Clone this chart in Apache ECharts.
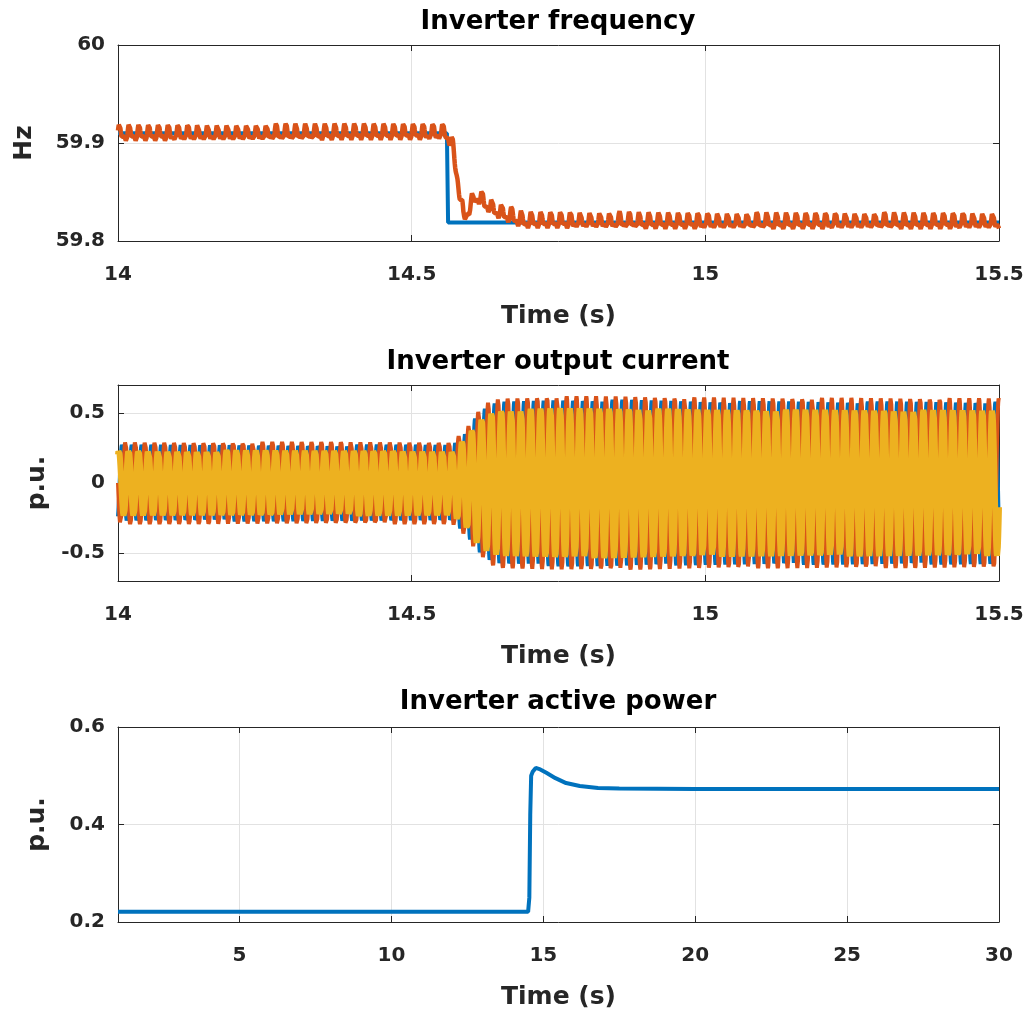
<!DOCTYPE html>
<html>
<head>
<meta charset="utf-8">
<script src="https://cdn.jsdelivr.net/npm/echarts@6/dist/echarts.min.js"></script>
<style>
html, body { margin: 0; background: #fff; }
#chart { width: 1029px; height: 1013px; }
</style>
</head>
<body>
<div id="chart"></div>
<script>
// ---- Inverter frequency (Hz), key points ----
var freqRefT = [14, 14.56, 14.562, 15.5];
var freqRefV = [59.91, 59.91, 59.819, 59.819];
var freqMeasT = [14, 14.2, 14.4, 14.56, 14.568, 14.578, 14.588, 14.6, 14.612, 14.625, 14.64, 14.66, 14.69, 15.0, 15.5];
var freqMeasV = [59.909, 59.909, 59.91, 59.91, 59.9, 59.865, 59.823, 59.836, 59.846, 59.838, 59.832, 59.827, 59.82, 59.819, 59.819];
var freqRipple = [0.0065, 0.0045];

// ---- Inverter output current envelopes (p.u.) ----
var curT = [14, 14.57, 14.594, 14.611, 14.63, 14.65, 14.75, 14.85, 15.0, 15.5];
var curAmpA = [0.275, 0.275, 0.37, 0.48, 0.55, 0.58, 0.595, 0.595, 0.585, 0.58];
var curAmpB = [0.295, 0.295, 0.39, 0.5, 0.575, 0.605, 0.62, 0.62, 0.61, 0.605];
var curAmpC = [0.235, 0.235, 0.33, 0.43, 0.495, 0.52, 0.535, 0.535, 0.525, 0.52];

// ---- Inverter active power (p.u.) ----
var powT = [1, 5, 10, 14.5, 14.54, 14.57, 14.6, 14.65, 14.75, 14.9, 15.1, 15.4, 15.75, 16.2, 16.8, 17.5, 20, 25, 30];
var powV = [0.221, 0.221, 0.221, 0.221, 0.25, 0.42, 0.5, 0.508, 0.516, 0.513, 0.506, 0.495, 0.485, 0.479, 0.475, 0.474, 0.473, 0.473, 0.473];

// ---- tick labels ----
var freqXTicks = [14, 14.5, 15, 15.5];
var curYTicks = [-0.5, 0, 0.5];
var powXTicks = [5, 10, 15, 20, 25, 30];

function lerp(ts, vs, t) {
    for (var i = 1; i < ts.length; i++) {
        if (t <= ts[i]) {
            var k = (t - ts[i - 1]) / (ts[i] - ts[i - 1]);
            return vs[i - 1] + k * (vs[i] - vs[i - 1]);
        }
    }
    return vs[vs.length - 1];
}

// build waveforms: phase follows the inverter frequency
var dt = 1 / 1500;
var freqMeas = [], ia = [], ib = [], ic = [];
var freqRef = freqRefT.map(function (t, i) { return [t, freqRefV[i]]; });
var ph = 0;
for (var t = 14; t <= 15.5 + 1e-9; t += dt) {
    var f = lerp(freqRefT, freqRefV, t);
    var th = 2 * Math.PI * ph;
    freqMeas.push([t, lerp(freqMeasT, freqMeasV, t) + freqRipple[0] * Math.sin(th + 0.6) + freqRipple[1] * Math.sin(2 * th)]);
    ia.push([t, lerp(curT, curAmpA, t) * Math.sin(th + 5 * Math.PI / 3)]);
    ib.push([t, lerp(curT, curAmpB, t) * Math.sin(th + Math.PI)]);
    ic.push([t, lerp(curT, curAmpC, t) * Math.sin(th + Math.PI / 3)]);
    ph += f * dt;
}
var power = powT.map(function (t, i) { return [t, powV[i]]; });

var FONT = 'DejaVu Sans';
var INK = '#262626';
var BLUE = '#0072BD', ORANGE = '#D95319', YELLOW = '#EDB120';

var grids = [
    { left: 118, top: 45, width: 881, height: 196 },
    { left: 118, top: 385, width: 881, height: 196 },
    { left: 118, top: 727, width: 881, height: 195 }
];

function mainX(g, min, max, ticks) {
    return {
        type: 'value', gridIndex: g, min: min, max: max, position: 'bottom',
        name: 'Time (s)', nameLocation: 'middle', nameGap: 63,
        nameTextStyle: { fontFamily: FONT, fontWeight: 'bold', fontSize: 25, color: INK },
        axisLine: { show: true, onZero: false, lineStyle: { color: INK, width: 1 } },
        axisTick: { show: true, inside: true, length: 6, customValues: ticks, lineStyle: { color: INK } },
        axisLabel: { show: true, customValues: ticks, margin: 24, showMinLabel: true, showMaxLabel: true,
            fontFamily: FONT, fontWeight: 'bold', fontSize: 20, color: INK },
        splitLine: { show: true, customValues: ticks, lineStyle: { color: '#e2e2e2', width: 1 } }
    };
}
function topX(g, min, max, ticks) {
    return {
        type: 'value', gridIndex: g, min: min, max: max, position: 'top',
        axisLine: { show: true, onZero: false, lineStyle: { color: INK, width: 1 } },
        axisTick: { show: true, inside: true, length: 6, customValues: ticks, lineStyle: { color: INK } },
        axisLabel: { show: false }, splitLine: { show: false }
    };
}
function mainY(g, min, max, opts) {
    var ax = {
        type: 'value', gridIndex: g, min: min, max: max, position: 'left',
        name: opts.name, nameLocation: 'middle', nameGap: opts.gap,
        nameTextStyle: { fontFamily: FONT, fontWeight: 'bold', fontSize: 25, color: INK },
        axisLine: { show: true, onZero: false, lineStyle: { color: INK, width: 1 } },
        axisTick: { show: true, inside: true, length: 6, lineStyle: { color: INK } },
        axisLabel: { show: true, margin: 13, showMinLabel: true, showMaxLabel: true,
            fontFamily: FONT, fontWeight: 'bold', fontSize: 20, color: INK },
        splitLine: { show: true, lineStyle: { color: '#e2e2e2', width: 1 } }
    };
    if (opts.interval) ax.interval = opts.interval;
    if (opts.ticks) {
        ax.axisTick.customValues = opts.ticks;
        ax.axisLabel.customValues = opts.ticks;
        ax.splitLine.customValues = opts.ticks;
    }
    return ax;
}
function rightY(g, min, max, opts) {
    var ax = {
        type: 'value', gridIndex: g, min: min, max: max, position: 'right',
        axisLine: { show: true, onZero: false, lineStyle: { color: INK, width: 1 } },
        axisTick: { show: true, inside: true, length: 6, lineStyle: { color: INK } },
        axisLabel: { show: false }, splitLine: { show: false }
    };
    if (opts.interval) ax.interval = opts.interval;
    if (opts.ticks) ax.axisTick.customValues = opts.ticks;
    return ax;
}

function titleAt(text, y) {
    return {
        text: text, left: 558, top: y, textAlign: 'center', padding: 0,
        textStyle: { fontFamily: FONT, fontWeight: 'bold', fontSize: 26, color: '#000' }
    };
}

function line(name, data, xi, color, width) {
    return {
        name: name, type: 'line', xAxisIndex: xi, yAxisIndex: xi, data: data,
        showSymbol: false, symbol: 'none', silent: true,
        lineStyle: { color: color, width: width }, z: 2
    };
}

var yOpt0 = { name: 'Hz', gap: 81, interval: 0.1 };
var yOpt1 = { name: 'p.u.', gap: 68, ticks: curYTicks };
var yOpt2 = { name: 'p.u.', gap: 68, interval: 0.2 };

var chart = echarts.init(document.getElementById('chart'), null, { renderer: 'canvas' });
chart.setOption({
    animation: false,
    backgroundColor: '#fff',
    title: [
        titleAt('Inverter frequency', 9),
        titleAt('Inverter output current', 349),
        titleAt('Inverter active power', 689)
    ],
    grid: grids,
    xAxis: [
        mainX(0, 14, 15.5, freqXTicks), mainX(1, 14, 15.5, freqXTicks), mainX(2, 1, 30, powXTicks),
        topX(0, 14, 15.5, freqXTicks), topX(1, 14, 15.5, freqXTicks), topX(2, 1, 30, powXTicks)
    ],
    yAxis: [
        mainY(0, 59.8, 60, yOpt0), mainY(1, -0.7, 0.7, yOpt1), mainY(2, 0.2, 0.6, yOpt2),
        rightY(0, 59.8, 60, yOpt0), rightY(1, -0.7, 0.7, yOpt1), rightY(2, 0.2, 0.6, yOpt2)
    ],
    series: [
        line('f ref', freqRef, 0, BLUE, 4),
        line('f meas', freqMeas, 0, ORANGE, 4.5),
        line('ia', ia, 1, BLUE, 4),
        line('ib', ib, 1, ORANGE, 4),
        line('ic', ic, 1, YELLOW, 6),
        line('P', power, 2, BLUE, 4)
    ]
});
</script>
</body>
</html>
